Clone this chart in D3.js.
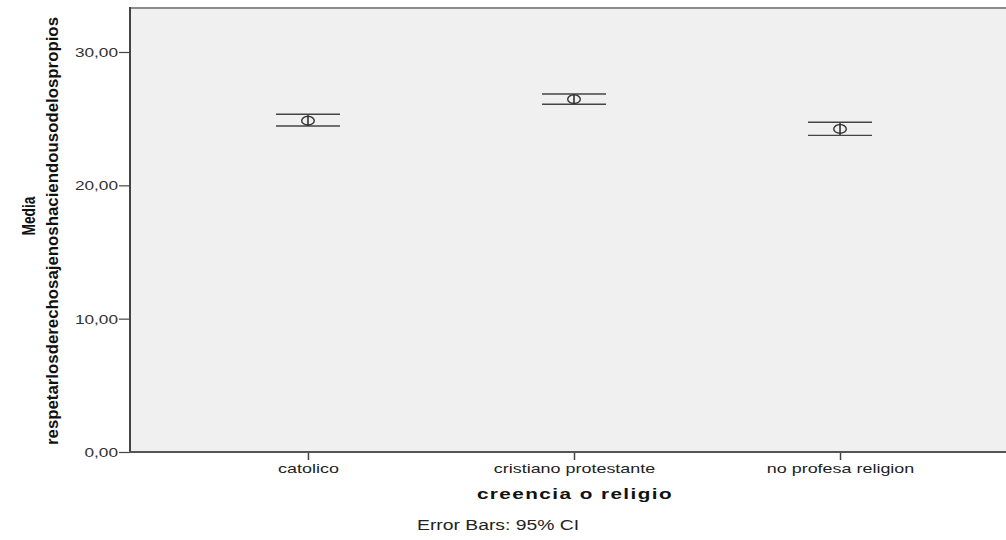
<!DOCTYPE html>
<html><head><meta charset="utf-8">
<script src="https://cdn.jsdelivr.net/npm/d3@7"></script>
<style>body{margin:0;background:#fff}svg{display:block}</style>
</head><body><svg id="c" width="1006" height="540"></svg>
<script>
const categories = ["catolico", "cristiano protestante", "no profesa religion"];
const means = [24.85, 26.46, 24.23];
const lowerCI = [24.45, 26.08, 23.75];
const upperCI = [25.33, 26.85, 24.73];
const yTicks = [0, 10, 20, 30];
const yTickLabels = ["0,00", "10,00", "20,00", "30,00"];
const yTitle = ["Media", "respetarlosderechosajenoshaciendousodelospropios"];
const xTitle = "creencia o religio";
const footnote = "Error Bars: 95% CI";

const K = 1.38; // horizontal text stretch seen in the reference
const svg = d3.select("#c");
const L = 130, T = 8, B = 452, R = 1018;
const y = d3.scaleLinear().domain([0, 33.3]).range([B, T]);
const x = d3.scalePoint().domain(categories).range([L, R]).padding(0.669);

svg.append("rect").attr("x", L).attr("y", T).attr("width", 1006 - L).attr("height", B - T).attr("fill", "#f0f0f0");
svg.append("line").attr("x1", L).attr("x2", 1006).attr("y1", T).attr("y2", T).attr("stroke", "#8c8c8c").attr("stroke-width", 2);

const fontA = "'Liberation Sans', Arial, sans-serif";
// y axis
const ya = svg.append("g").attr("transform", `translate(${L},0)`)
  .call(d3.axisLeft(y).tickValues(yTicks).tickSize(11).tickFormat((d, i) => yTickLabels[i]));
ya.select(".domain").remove();
ya.selectAll(".tick line").attr("stroke", "#444").attr("stroke-width", 1.2);
ya.selectAll(".tick text").attr("x", 0).attr("dy", "0.35em")
  .attr("transform", `translate(-12,0) scale(${K},1)`)
  .attr("font-family", fontA).attr("font-size", 12.5).attr("fill", "#333");
svg.append("line").attr("x1", L).attr("x2", L).attr("y1", T - 1).attr("y2", B + 1).attr("stroke", "#444").attr("stroke-width", 2);

// x axis
const xa = svg.append("g").attr("transform", `translate(0,${B})`)
  .call(d3.axisBottom(x).tickSize(8));
xa.select(".domain").remove();
xa.selectAll(".tick line").attr("stroke", "#444").attr("stroke-width", 1.5);
xa.selectAll(".tick text").attr("y", 0).attr("dy", 0)
  .attr("transform", `translate(0,21) scale(${K},1)`)
  .attr("font-family", fontA).attr("font-size", 13).attr("fill", "#222");
svg.append("line").attr("x1", L - 1).attr("x2", 1006).attr("y1", B).attr("y2", B).attr("stroke", "#555").attr("stroke-width", 2);

// error bars
const g = svg.append("g");
categories.forEach((c, i) => {
  const cx = x(c);
  const hw = 32;
  g.append("line").attr("x1", cx).attr("x2", cx).attr("y1", y(upperCI[i])).attr("y2", y(lowerCI[i])).attr("stroke", "#333").attr("stroke-width", 1.6);
  [upperCI[i], lowerCI[i]].forEach(v => {
    g.append("line").attr("x1", cx - hw).attr("x2", cx + hw).attr("y1", y(v)).attr("y2", y(v)).attr("stroke", "#444").attr("stroke-width", 1.4);
  });
  g.append("ellipse").attr("cx", cx).attr("cy", y(means[i])).attr("rx", 6.3).attr("ry", 4.3).attr("fill", "none").attr("stroke", "#333").attr("stroke-width", 1.4);
});

// y title (rotated)
const cy = (T + B) / 2;
svg.append("text").attr("transform", `translate(35,${cy - 14}) rotate(-90)`)
  .attr("text-anchor", "middle").attr("font-family", fontA).attr("font-weight", "bold").attr("font-size", 18).attr("fill", "#111")
  .attr("textLength", 39).attr("lengthAdjust", "spacingAndGlyphs").text(yTitle[0]);
svg.append("text").attr("transform", `translate(58,${cy + 1}) rotate(-90)`)
  .attr("text-anchor", "middle").attr("font-family", fontA).attr("font-weight", "bold").attr("font-size", 17).attr("fill", "#111")
  .attr("textLength", 428).attr("lengthAdjust", "spacingAndGlyphs").text(yTitle[1]);

// x title
svg.append("text").attr("transform", `translate(${x(categories[1]) + 1},499) scale(${K},1)`).attr("text-anchor", "middle")
  .attr("font-family", fontA).attr("font-weight", "bold").attr("font-size", 15).attr("letter-spacing", 1.05).attr("fill", "#111").text(xTitle);

svg.append("text").attr("transform", `translate(417,530) scale(${K},1)`).attr("font-family", fontA).attr("font-size", 14).attr("fill", "#222").text(footnote);
</script></body></html>
